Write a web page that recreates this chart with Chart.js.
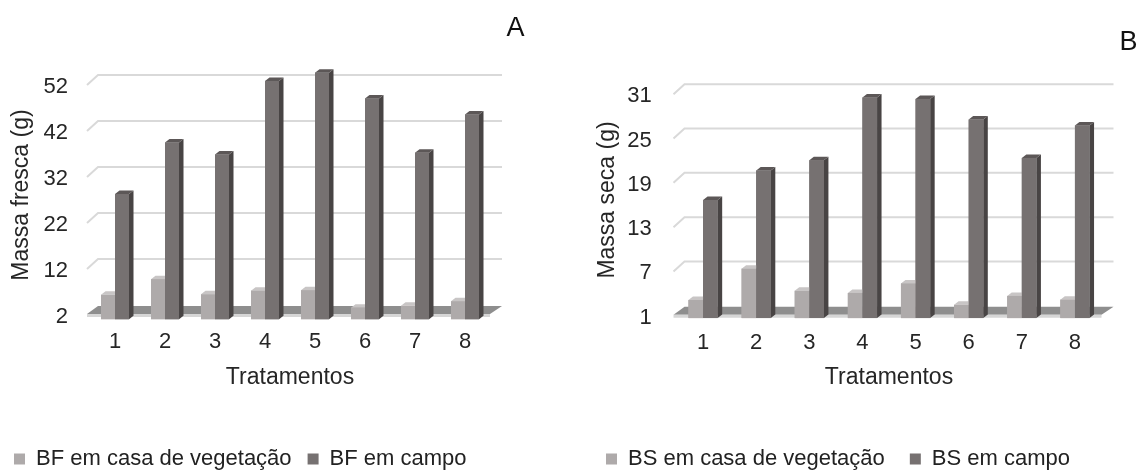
<!DOCTYPE html>
<html>
<head>
<meta charset="utf-8">
<script src="https://cdn.jsdelivr.net/npm/chart.js@4.4.1/dist/chart.umd.min.js"></script>
<style>
  html, body { margin: 0; padding: 0; background: #fff; }
  #wrap { position: relative; width: 1141px; height: 471px; overflow: hidden; }
  canvas { position: absolute; top: 0; }
  #chart-a { left: 0; }
  #chart-b { left: 570px; }
</style>
</head>
<body>
<div id="wrap">
  <canvas id="chart-a" width="570" height="471"></canvas>
  <canvas id="chart-b" width="571" height="471"></canvas>
</div>
<script>
// values
const treatments = ["1", "2", "3", "4", "5", "6", "7", "8"];

const bfGreenhouse = [5.3, 8.7, 5.4, 6.2, 6.3, 2.5, 2.9, 3.9];
const bfField = [27.2, 38.4, 35.8, 51.8, 53.6, 48.0, 36.2, 44.5];
const freshTicks = { min: 2, max: 52, step: 10 };

const bsGreenhouse = [2.45, 6.7, 3.7, 3.4, 4.7, 1.8, 3.0, 2.5];
const bsField = [16.0, 20.0, 21.4, 29.9, 29.7, 26.9, 21.7, 26.1];
const dryTicks = { min: 1, max: 31, step: 6 };

Chart.defaults.font.family = "'Liberation Sans', Arial, sans-serif";
Chart.defaults.color = "#262626";

const LIGHT = { front: "#aeaaaa", top: "#c8c5c5", side: "#8b8787" };
const DARK = { front: "#767171", top: "#5c5757", side: "#484444" };
const DX = 4.5, DY = 3.5;

function poly(ctx, pts) {
  ctx.beginPath();
  ctx.moveTo(pts[0][0], pts[0][1]);
  for (let i = 1; i < pts.length; i++) ctx.lineTo(pts[i][0], pts[i][1]);
  ctx.closePath();
  ctx.fill();
}

// fake Excel-style 3D: back wall grid, floor, bar sides and tops
const fake3d = {
  id: "fake3d",
  beforeDatasetsDraw(chart) {
    const { ctx, chartArea: a, scales: { y } } = chart;
    ctx.save();
    // floor
    ctx.fillStyle = "#8e8e8e";
    poly(ctx, [[a.left - 3, a.bottom + 4], [a.right, a.bottom + 4], [a.right + 12, a.bottom - 4], [a.left + 8, a.bottom - 4]]);
    ctx.strokeStyle = "#d6d6d6";
    ctx.lineWidth = 3;
    ctx.beginPath();
    ctx.moveTo(a.left - 3, a.bottom + 5.5);
    ctx.lineTo(a.right, a.bottom + 5.5);
    ctx.stroke();
    // back wall grid lines
    ctx.lineWidth = 2;
    ctx.strokeStyle = "#d9d9d9";
    y.ticks.forEach((t) => {
      if (t.value === y.min) return;
      const py = y.getPixelForValue(t.value);
      ctx.beginPath();
      ctx.moveTo(a.left - 3, py + 5);
      ctx.lineTo(a.left + 8, py - 5);
      ctx.lineTo(a.right + 12, py - 5);
      ctx.stroke();
    });
    ctx.restore();
  },
  afterDatasetsDraw(chart) {
    const ctx = chart.ctx;
    ctx.save();
    chart.data.datasets.forEach((ds, i) => {
      const shade = i === 0 ? LIGHT : DARK;
      chart.getDatasetMeta(i).data.forEach((bar) => {
        const { x, y, base, width } = bar.getProps(["x", "y", "base", "width"], true);
        const l = x - width / 2, r = x + width / 2;
        ctx.fillStyle = shade.side;
        poly(ctx, [[r, y], [r + DX, y - DY], [r + DX, base - DY], [r, base]]);
        ctx.fillStyle = shade.top;
        poly(ctx, [[l, y], [l + DX, y - DY], [r + DX, y - DY], [r, y]]);
        ctx.fillStyle = shade.front;
        ctx.fillRect(l, y, width, base - y);
      });
    });
    ctx.restore();
  },
  afterDraw(chart, args, opts) {
    const ctx = chart.ctx;
    ctx.save();
    ctx.font = "27px 'Liberation Sans', Arial, sans-serif";
    ctx.fillStyle = "#111";
    ctx.textAlign = "center";
    ctx.textBaseline = "middle";
    ctx.fillText(opts.letter, opts.x, opts.y);
    ctx.restore();
  },
};

function makePanel(id, p) {
  const ctx = document.getElementById(id).getContext("2d");
  return new Chart(ctx, {
    type: "bar",
    plugins: [fake3d],
    data: {
      labels: treatments,
      datasets: [
        { label: p.names[0], data: p.light, backgroundColor: LIGHT.front, clip: false },
        { label: p.names[1], data: p.dark, backgroundColor: DARK.front, clip: false },
      ],
    },
    options: {
      responsive: false,
      animation: false,
      categoryPercentage: p.catPct,
      barPercentage: 1,
      layout: { padding: p.pad },
      plugins: {
        tooltip: { enabled: false },
        fake3d: p.tag,
        legend: {
          position: "bottom",
          align: "start",
          labels: { boxWidth: 11, boxHeight: 11, padding: p.legendPad, font: { size: 22 }, color: "#222" },
        },
      },
      scales: {
        x: {
          grid: { display: false, drawTicks: false },
          border: { display: false },
          ticks: { padding: 19, font: { size: 22 } },
          title: { display: true, text: "Tratamentos", font: { size: 23 }, padding: { top: 0, bottom: p.xTitlePad } },
          afterFit(scale) { scale.height = p.xHeight; },
        },
        y: {
          min: p.ticks.min,
          max: p.ticks.max,
          grid: { display: false, drawTicks: false },
          border: { display: false },
          ticks: { stepSize: p.ticks.step, padding: p.tickPad, labelOffset: 7, font: { size: 22 } },
          title: { display: true, text: p.yTitle, font: { size: 23 }, padding: { top: p.yTitlePad, bottom: 0 } },
          afterFit(scale) { scale.width = p.yWidth; },
        },
      },
    },
  });
}

makePanel("chart-a", {
  names: ["BF em casa de vegetação", "BF em campo"],
  light: bfGreenhouse,
  dark: bfField,
  ticks: freshTicks,
  yTitle: "Massa fresca (g)",
  catPct: 0.56,
  pad: { left: -2, right: 80, top: 80, bottom: -9 },
  legendPad: 16,
  xHeight: 122,
  xTitlePad: 41,
  yWidth: 92,
  yTitlePad: 10,
  tickPad: 22,
  tag: { letter: "A", x: 515.5, y: 29 },
});

makePanel("chart-b", {
  names: ["BS em casa de vegetação", "BS em campo"],
  light: bsGreenhouse,
  dark: bsField,
  ticks: dryTicks,
  yTitle: "Massa seca (g)",
  catPct: 0.55,
  pad: { left: 11, right: 39.5, top: 89.3, bottom: -9 },
  legendPad: 25,
  xHeight: 112.3,
  xTitlePad: 32,
  yWidth: 95.5,
  yTitlePad: 12.7,
  tickPad: 24.8,
  tag: { letter: "B", x: 558.5, y: 43 },
});
</script>
</body>
</html>
